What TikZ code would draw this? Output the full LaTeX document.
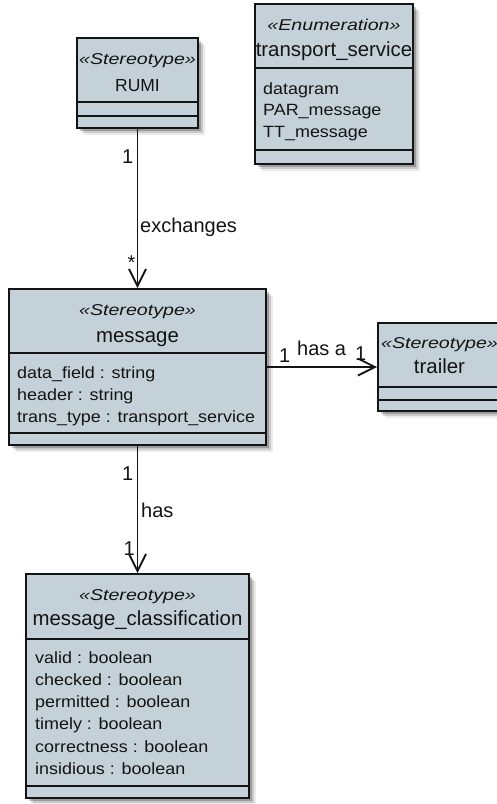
\documentclass[tikz,border=0pt]{standalone}
\usepackage{fontspec}
\setmainfont{Liberation Sans}
\newfontfamily\stfont{Liberation Sans}[FakeStretch=1.25]
\newfontfamily\atfont{Liberation Sans}[FakeStretch=1.1]
\usetikzlibrary{arrows.meta}
\definecolor{clsfill}{RGB}{196,209,216}
\definecolor{ink}{RGB}{20,20,20}
\newcommand\umlshadow[4]{%
  \fill[black,opacity=.08] (#1+7,#2+7) rectangle (#3+7,#4+7);
  \fill[black,opacity=.14] (#1+5,#2+5) rectangle (#3+5,#4+5);
  \fill[black,opacity=.22] (#1+3,#2+3) rectangle (#3+3,#4+3);}
\newcommand\compsep[2]{\draw[sepline] (#1.west |- 0,#2) -- (#1.east |- 0,#2);}
\begin{document}
\begin{tikzpicture}[x=1pt,y=-1pt,
  cls/.style={draw=ink, line width=2pt, fill=clsfill, rectangle, inner sep=0},
  sepline/.style={draw=ink, line width=2pt},
  ster/.style={anchor=base, inner sep=0, font=\stfont\itshape\fontsize{15.7}{18}\selectfont, text=ink},
  cname/.style={anchor=base, inner sep=0, font=\fontsize{20.4}{24}\selectfont, text=ink},
  attr/.style={anchor=base west, inner sep=0, font=\atfont\fontsize{16.3}{19}\selectfont, text=ink},
  lbl/.style={inner sep=0, font=\fontsize{20}{24}\selectfont, text=ink},
  assoc/.style={draw=ink, line width=1.8pt, -{Straight Barb[length=17pt,width=17pt,line width=1.8pt]}}
]
\useasboundingbox (0,0) rectangle (497,804);
\clip (0,0) rectangle (497,804);
\fill[white] (0,0) rectangle (497,804);

% shadows
\umlshadow{77}{38}{198}{128}
\umlshadow{255}{4}{413}{164}
\umlshadow{9}{289}{266}{445}
\umlshadow{378}{323}{501}{411}
\umlshadow{26}{574}{249}{798}

% RUMI
\node[cls, minimum width=121pt, minimum height=90pt] (rumi) at (137.5,83) {};
\compsep{rumi}{102}
\compsep{rumi}{116}
\node[ster] (rumiS) at (137.5,64) {«Stereotype»};
\node[cname, font=\fontsize{17.5}{20}\selectfont] (rumiN) at (137.5,91) {RUMI};

% transport_service
\node[cls, minimum width=158pt, minimum height=160pt] (enum) at (334,84) {};
\compsep{enum}{68}
\compsep{enum}{150}
\node[ster] (enumS) at (334,30) {«Enumeration»};
\node[cname] (enumN) at (334,56) {transport\_service};
\node[attr] (enumA1) at (263,94) {datagram};
\node[attr] (enumA2) at (263,115.5) {PAR\_message};
\node[attr] (enumA3) at (263,137) {TT\_message};

% message
\node[cls, minimum width=257pt, minimum height=156pt] (message) at (137.5,367) {};
\compsep{message}{353}
\compsep{message}{433}
\node[ster] (messageS) at (137.5,315) {«Stereotype»};
\node[cname] (messageN) at (137.5,342) {message};
\node[attr] (messageA1) at (17,378) {data\_field : string};
\node[attr] (messageA2) at (17,400) {header : string};
\node[attr] (messageA3) at (17,422) {trans\_type : transport\_service};

% trailer
\node[cls, minimum width=123pt, minimum height=88pt] (trailer) at (439.5,367) {};
\compsep{trailer}{387}
\compsep{trailer}{400}
\node[ster] (trailerS) at (439.5,348) {«Stereotype»};
\node[cname] (trailerN) at (439.5,373) {trailer};

% message_classification
\node[cls, minimum width=223pt, minimum height=224pt] (mc) at (137.5,686) {};
\compsep{mc}{639}
\compsep{mc}{786}
\node[ster] (mcS) at (137.5,600) {«Stereotype»};
\node[cname] (mcN) at (137.5,625) {message\_classification};
\node[attr] (mcA1) at (35,663) {valid : boolean};
\node[attr] (mcA2) at (35,685) {checked : boolean};
\node[attr] (mcA3) at (35,707) {permitted : boolean};
\node[attr] (mcA4) at (35,729.5) {timely : boolean};
\node[attr] (mcA5) at (35,752) {correctness : boolean};
\node[attr] (mcA6) at (35,774) {insidious : boolean};

% connectors
\draw[assoc] (rumi.south) -- (message.north);
\draw[assoc] (message.east) -- (trailer.west);
\draw[assoc] (message.south) -- (mc.north);

% labels
\node[lbl, anchor=base east] (l1) at (133.5,163) {1};
\node[lbl, anchor=base west] (l2) at (140,232) {exchanges};
\node[lbl, anchor=base east] (l3) at (135.5,269) {*};
\node[lbl, anchor=base east] (l4) at (133.5,480) {1};
\node[lbl, anchor=base west] (l5) at (141,517) {has};
\node[lbl, anchor=base east] (l6) at (135,555) {1};
\node[lbl, anchor=base west] (l7) at (279,362) {1};
\node[lbl, anchor=base west] (l8) at (297,355) {has a};
\node[lbl, anchor=base west] (l9) at (355,360) {1};
\end{tikzpicture}
\end{document}
